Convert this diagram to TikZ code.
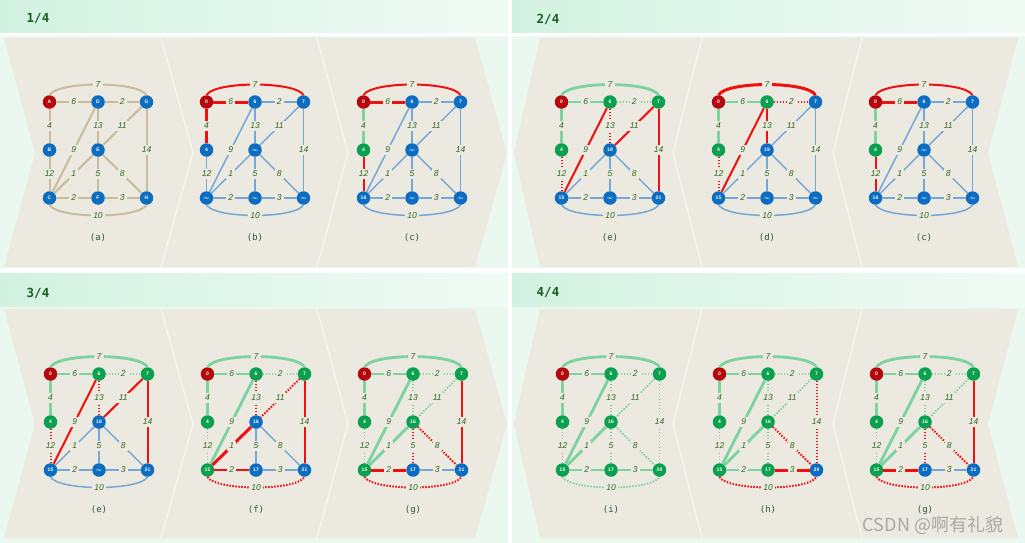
\documentclass[tikz,border=0pt]{standalone}
\usepackage{fontspec}
\setmainfont{Liberation Sans}
\newfontfamily\monofont{DejaVu Sans Mono}
\newfontfamily\cjkfont{Noto Sans CJK SC}
\definecolor{beige}{HTML}{ECE9E0}
\definecolor{mint}{HTML}{EAF8F0}
\definecolor{hdrL}{HTML}{D2F2E1}
\definecolor{hdrR}{HTML}{F1FBF6}
\definecolor{nred}{HTML}{B5080E}
\definecolor{nblue}{HTML}{0B6CC0}
\definecolor{ngreen}{HTML}{0AA04F}
\definecolor{eblue}{HTML}{74A8D8}
\definecolor{etan}{HTML}{C7BD9C}
\definecolor{ered}{HTML}{F01010}
\definecolor{egreen}{HTML}{7DD3A0}
\definecolor{lblgreen}{HTML}{2F6A1C}
\definecolor{capgreen}{HTML}{2A5A36}
\definecolor{hdrtext}{HTML}{1B5E20}
\definecolor{sepline}{HTML}{F4F6F0}
\definecolor{wmark}{HTML}{A8A8A8}
\tikzset{
 vtx/.style={circle, minimum size=13.5pt, inner sep=0pt, text=white, font=\fontsize{5}{5}\selectfont\bfseries},
 vred/.style={vtx, fill=nred}, vblue/.style={vtx, fill=nblue}, vgreen/.style={vtx, fill=ngreen},
 elab/.style={fill=beige, inner sep=2.3pt, text=lblgreen, font=\fontsize{8.5}{8.5}\selectfont\itshape},
 tan/.style={draw=etan, line width=2pt},
 blu/.style={draw=eblue, line width=1.5pt},
 rs/.style={draw=ered, line width=2pt},
 rst/.style={draw=ered, line width=3pt},
 rd/.style={draw=ered, line width=2pt, dash pattern=on 1.5pt off 1.5pt},
 gs/.style={draw=egreen, line width=2.8pt},
 gd/.style={draw=egreen, line width=1.8pt, dash pattern=on 1.5pt off 1.5pt},
 captxt/.style={text=capgreen, font=\monofont\fontsize{9}{9}\selectfont},
 hdrtxt/.style={text=hdrtext, font=\monofont\bfseries\fontsize{12.5}{12.5}\selectfont},
 sepln/.style={draw=sepline, line width=1.5pt},
}
\newcommand\infsym{$\infty$}
\newcommand\setnodes[8]{\tikzset{nA/.style={#1},nD/.style={#2},nG/.style={#3},nB/.style={#4},nE/.style={#5},nC/.style={#6},nF/.style={#7},nH/.style={#8}}}
\newcommand\setlabels[8]{\def\vlA{#1}\def\vlD{#2}\def\vlG{#3}\def\vlB{#4}\def\vlE{#5}\def\vlC{#6}\def\vlF{#7}\def\vlH{#8}}
\newcommand\setedgesA[8]{\tikzset{eAG/.style={#1},eAD/.style={#2},eDG/.style={#3},eAB/.style={#4},eDE/.style={#5},eGE/.style={#6},eGH/.style={#7},eDC/.style={#8}}}
\newcommand\setedgesB[7]{\tikzset{eBC/.style={#1},eEC/.style={#2},eEF/.style={#3},eEH/.style={#4},eCF/.style={#5},eFH/.style={#6},eCH/.style={#7}}}
\newcommand\dgraph[4]{%
\begin{scope}[shift={(#1,#2)}]
\node[nA] (#4A) at (-48.5,-48) {\vlA};
\node[nD] (#4D) at (0,-48) {\vlD};
\node[nG] (#4G) at (48.5,-48) {\vlG};
\node[nB] (#4B) at (-48.5,0) {\vlB};
\node[nE] (#4E) at (0,0) {\vlE};
\node[nC] (#4C) at (-48.5,48) {\vlC};
\node[nF] (#4F) at (0,48) {\vlF};
\node[nH] (#4H) at (48.5,48) {\vlH};
\draw[eAG] (#4A.north) .. controls +(8,-14) and +(-8,-14) .. node[elab]{7} (#4G.north);
\draw[eAD] (#4A) -- node[elab]{6} (#4D);
\draw[eDG] (#4D) -- node[elab]{2} (#4G);
\draw[eAB] (#4A) -- node[elab]{4} (#4B);
\draw[eDE] (#4D) -- node[elab]{13} (#4E);
\draw[eGE] (#4G) -- node[elab]{11} (#4E);
\draw[eGH] (#4G) -- node[elab]{14} (#4H);
\draw[eDC] (#4D) -- node[elab]{9} (#4C);
\draw[eBC] (#4B) -- node[elab]{12} (#4C);
\draw[eEC] (#4E) -- node[elab]{1} (#4C);
\draw[eEF] (#4E) -- node[elab]{5} (#4F);
\draw[eEH] (#4E) -- node[elab]{8} (#4H);
\draw[eCF] (#4C) -- node[elab]{2} (#4F);
\draw[eFH] (#4F) -- node[elab]{3} (#4H);
\draw[eCH] (#4C.south) .. controls +(8,14) and +(-8,14) .. node[elab]{10} (#4H.south);
\node[captxt] (#4cap) at (0,88) {#3};
\end{scope}}
% panel states
\newcommand\stA{\setnodes{vred}{vblue}{vblue}{vblue}{vblue}{vblue}{vblue}{vblue}\setlabels{A}{D}{G}{B}{E}{C}{F}{H}%
 \setedgesA{tan}{tan}{tan}{tan}{tan}{tan}{tan}{tan}\setedgesB{tan}{tan}{tan}{tan}{tan}{tan}{tan}}
\newcommand\stB{\setnodes{vred}{vblue}{vblue}{vblue}{vblue}{vblue}{vblue}{vblue}\setlabels{0}{6}{7}{4}{\infsym}{\infsym}{\infsym}{\infsym}%
 \setedgesA{rs}{rst}{blu}{rst}{blu}{blu}{blu}{blu}\setedgesB{blu}{blu}{blu}{blu}{blu}{blu}{blu}}
\newcommand\stC{\setnodes{vred}{vblue}{vblue}{vgreen}{vblue}{vblue}{vblue}{vblue}\setlabels{0}{6}{7}{4}{\infsym}{16}{\infsym}{\infsym}%
 \setedgesA{rs}{rst}{blu}{gs}{blu}{blu}{blu}{blu}\setedgesB{rs}{blu}{blu}{blu}{blu}{blu}{blu}}
\newcommand\stE{\setnodes{vred}{vgreen}{vgreen}{vgreen}{vblue}{vblue}{vblue}{vblue}\setlabels{0}{6}{7}{4}{18}{15}{\infsym}{21}%
 \setedgesA{gs}{gs}{gd}{gs}{rd}{rs}{rs}{rs}\setedgesB{rd}{blu}{blu}{blu}{blu}{blu}{blu}}
\newcommand\stD{\setnodes{vred}{vgreen}{vblue}{vgreen}{vblue}{vblue}{vblue}{vblue}\setlabels{0}{6}{7}{4}{19}{15}{\infsym}{\infsym}%
 \setedgesA{rst}{gs}{rd}{gs}{rs}{blu}{blu}{rs}\setedgesB{rd}{blu}{blu}{blu}{blu}{blu}{blu}}
\newcommand\stF{\setnodes{vred}{vgreen}{vgreen}{vgreen}{vblue}{vgreen}{vblue}{vblue}\setlabels{0}{6}{7}{4}{16}{15}{17}{21}%
 \setedgesA{gs}{gs}{gd}{gs}{rd}{rd}{rs}{gs}\setedgesB{gd}{rst}{blu}{blu}{rs}{blu}{rd}}
\newcommand\stG{\setnodes{vred}{vgreen}{vgreen}{vgreen}{vgreen}{vgreen}{vblue}{vblue}\setlabels{0}{6}{7}{4}{16}{15}{17}{21}%
 \setedgesA{gs}{gs}{gd}{gs}{gd}{gd}{rs}{gs}\setedgesB{gd}{gs}{rd}{rd}{rst}{blu}{rd}}
\newcommand\stI{\setnodes{vred}{vgreen}{vgreen}{vgreen}{vgreen}{vgreen}{vgreen}{vgreen}\setlabels{0}{6}{7}{4}{16}{15}{17}{20}%
 \setedgesA{gs}{gs}{gd}{gs}{gd}{gd}{gd}{gs}\setedgesB{gd}{gs}{gd}{gd}{gs}{gs}{gd}}
\newcommand\stH{\setnodes{vred}{vgreen}{vgreen}{vgreen}{vgreen}{vgreen}{vgreen}{vblue}\setlabels{0}{6}{7}{4}{16}{15}{17}{20}%
 \setedgesA{gs}{gs}{gd}{gs}{gd}{gd}{rd}{gs}\setedgesB{gd}{gs}{gd}{rd}{gs}{rst}{rd}}
\begin{document}
\begin{tikzpicture}[x=1pt,y=-1pt]
\useasboundingbox (0,0) rectangle (1025,543);
\fill[white] (0,0) rectangle (1025,543);
% headers
\shade[left color=hdrL,right color=hdrR] (0,0) rectangle (508,33);
\shade[left color=hdrL,right color=hdrR] (512,0) rectangle (1025,33);
\shade[left color=hdrL,right color=hdrR] (0,273) rectangle (508,306);
\shade[left color=hdrL,right color=hdrR] (512,273) rectangle (1025,306);
\node[hdrtxt] (h1) at (38,19) {1/4};
\node[hdrtxt] (h2) at (548,19) {2/4};
\node[hdrtxt] (h3) at (38,293) {3/4};
\node[hdrtxt] (h4) at (548,293) {4/4};
% panel backgrounds
\fill[mint] (0,36) rectangle (508,268);
\fill[mint] (512,36) rectangle (1025,268);
\fill[mint] (0,307) rectangle (508,543);
\fill[mint] (512,307) rectangle (1025,543);
% chevrons
\foreach \dy in {0,271}{
 \fill[beige] (4,38+\dy) -- (475,38+\dy) -- (507,153+\dy) -- (475,267+\dy) -- (4,267+\dy) -- (35,153+\dy) -- cycle;
 \draw[sepln] (161,38+\dy) -- (193,153+\dy) -- (161,267+\dy);
 \draw[sepln] (317,38+\dy) -- (348,153+\dy) -- (317,267+\dy);
 \fill[beige] (540,38+\dy) -- (1018,38+\dy) -- (988,153+\dy) -- (1018,267+\dy) -- (540,267+\dy) -- (514,153+\dy) -- cycle;
 \draw[sepln] (702,38+\dy) -- (673,153+\dy) -- (702,267+\dy);
 \draw[sepln] (862,38+\dy) -- (833,153+\dy) -- (862,267+\dy);
}
% graphs
\stA\dgraph{98}{150}{(a)}{pa}
\stB\dgraph{255}{150}{(b)}{pb}
\stC\dgraph{412}{150}{(c)}{pc}
\stE\dgraph{610}{150}{(e)}{pe}
\stD\dgraph{767}{150}{(d)}{pd}
\stC\dgraph{924}{150}{(c)}{pcc}
\stE\dgraph{99}{422}{(e)}{pee}
\stF\dgraph{256}{422}{(f)}{pf}
\stG\dgraph{413}{422}{(g)}{pg}
\stI\dgraph{611}{422}{(i)}{pi}
\stH\dgraph{768}{422}{(h)}{ph}
\stG\dgraph{925}{422}{(g)}{pgg}
\node[text=wmark, font=\cjkfont\fontsize{18}{18}\selectfont, inner sep=0pt] (wm) at (933,525) {CSDN @啊有礼貌};
\end{tikzpicture}
\end{document}
